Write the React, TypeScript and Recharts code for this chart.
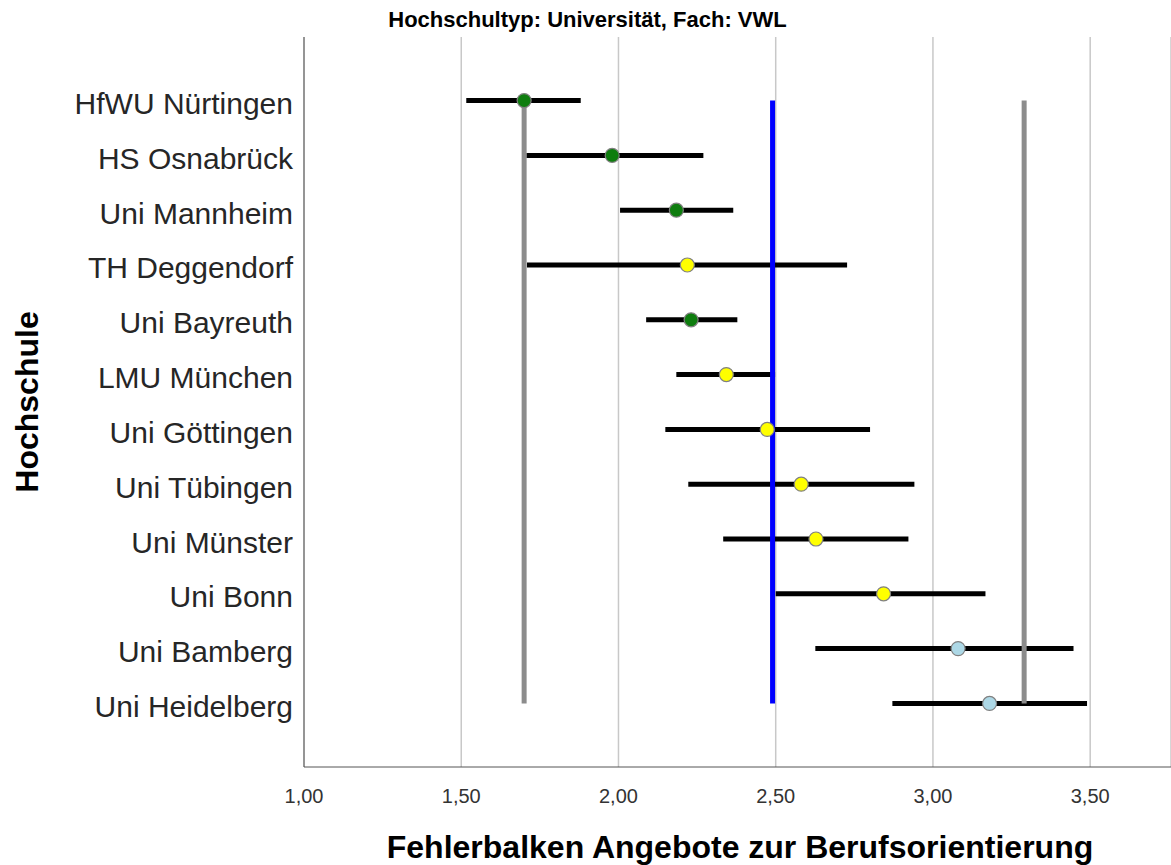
import { CartesianGrid, Cell, ErrorBar, Label, ReferenceLine, Scatter, ScatterChart, XAxis, YAxis } from 'recharts';

const SCHOOLS = [
  'HfWU Nürtingen',
  'HS Osnabrück',
  'Uni Mannheim',
  'TH Deggendorf',
  'Uni Bayreuth',
  'LMU München',
  'Uni Göttingen',
  'Uni Tübingen',
  'Uni Münster',
  'Uni Bonn',
  'Uni Bamberg',
  'Uni Heidelberg',
];
const MEANS = [1.70, 1.98, 2.184, 2.219, 2.231, 2.343, 2.473, 2.581, 2.628, 2.843, 3.08, 3.18];
const LOWER = [1.516, 1.707, 2.005, 1.709, 2.088, 2.184, 2.149, 2.222, 2.333, 2.50, 2.626, 2.871];
const UPPER = [1.88, 2.27, 2.365, 2.727, 2.378, 2.498, 2.80, 2.941, 2.922, 3.167, 3.447, 3.49];
const POINT_COLORS = [
  '#0e7d0e', '#0e7d0e', '#0e7d0e', '#ffff00', '#0e7d0e', '#ffff00',
  '#ffff00', '#ffff00', '#ffff00', '#ffff00', '#add8e6', '#add8e6',
];
const X_TICKS = [1, 1.5, 2, 2.5, 3, 3.5];
const REF_VALUES = [1.70, 2.49, 3.29];
const REF_COLORS = ['#8c8c8c', '#0000ff', '#8c8c8c'];

const FONT = '"Liberation Sans", Arial, sans-serif';

const data = SCHOOLS.map((name, i) => ({
  idx: i,
  name,
  mean: MEANS[i],
  err: [MEANS[i] - LOWER[i], UPPER[i] - MEANS[i]],
  color: POINT_COLORS[i],
}));

const Dot = (props: any) => {
  const { cx, cy, fill } = props;
  return <circle cx={cx} cy={cy} r={7} fill={fill} stroke="#808080" strokeWidth={1.2} />;
};

// school names, nudged a little below the bar like the SPSS output
const SchoolTick = (props: any) => {
  const { x, y, payload } = props;
  return (
    <text x={x} y={y + 3} textAnchor="end" dominantBaseline="central" fontSize={30} fill="#262626" fontFamily={FONT}>
      {SCHOOLS[payload.value] ?? ''}
    </text>
  );
};

export default function App() {
  return (
    <div style={{ position: 'absolute', left: 0, top: 0, width: 1171, height: 865, background: '#fff', fontFamily: FONT }}>
      <div
        style={{
          position: 'absolute',
          left: 2,
          top: 8,
          width: 1171,
          textAlign: 'center',
          fontWeight: 'bold',
          fontSize: 22,
          lineHeight: '23px',
          color: '#000',
        }}
      >
        Hochschultyp: Universität, Fach: VWL
      </div>
      <ScatterChart width={1171} height={865} margin={{ top: 37, right: 0, bottom: 0, left: 0 }}>
        <CartesianGrid horizontal={false} stroke="#c8c8c8" strokeWidth={1.5} />
        <XAxis
          type="number"
          dataKey="mean"
          domain={[1, 3.757]}
          ticks={X_TICKS}
          allowDataOverflow
          height={98}
          tickLine={false}
          tickSize={0}
          tickMargin={22}
          axisLine={{ stroke: '#555' }}
          tick={{ fontSize: 20, fill: '#333', fontFamily: FONT }}
          tickFormatter={(v: number) => v.toFixed(2).replace('.', ',')}
        >
          <Label
            content={() => (
              <text x={740} y={858} textAnchor="middle" fontSize={32} fontWeight="bold" fill="#000" fontFamily={FONT}>
                Fehlerbalken Angebote zur Berufsorientierung
              </text>
            )}
          />
        </XAxis>
        <YAxis
          type="number"
          dataKey="idx"
          domain={[-1.16, 12.16]}
          reversed
          ticks={SCHOOLS.map((_, i) => i)}
          allowDataOverflow
          width={304}
          tickLine={false}
          tickSize={0}
          tickMargin={11}
          axisLine={{ stroke: '#555' }}
          tick={<SchoolTick />}
        >
          <Label
            content={() => (
              <text
                x={38}
                y={402}
                transform="rotate(-90 38 402)"
                textAnchor="middle"
                fontSize={32}
                fontWeight="bold"
                fill="#000"
                fontFamily={FONT}
              >
                Hochschule
              </text>
            )}
          />
        </YAxis>
        <Scatter data={data} shape={<Dot />} isAnimationActive={false}>
          <ErrorBar dataKey="err" direction="x" width={0} stroke="#000" strokeWidth={5} />
          {data.map((d) => (
            <Cell key={d.name} fill={d.color} />
          ))}
        </Scatter>
        {REF_VALUES.map((v, i) => (
          <ReferenceLine
            key={v}
            segment={[
              { x: v, y: 0 },
              { x: v, y: SCHOOLS.length - 1 },
            ]}
            stroke={REF_COLORS[i]}
            strokeWidth={5}
          />
        ))}
      </ScatterChart>
    </div>
  );
}
